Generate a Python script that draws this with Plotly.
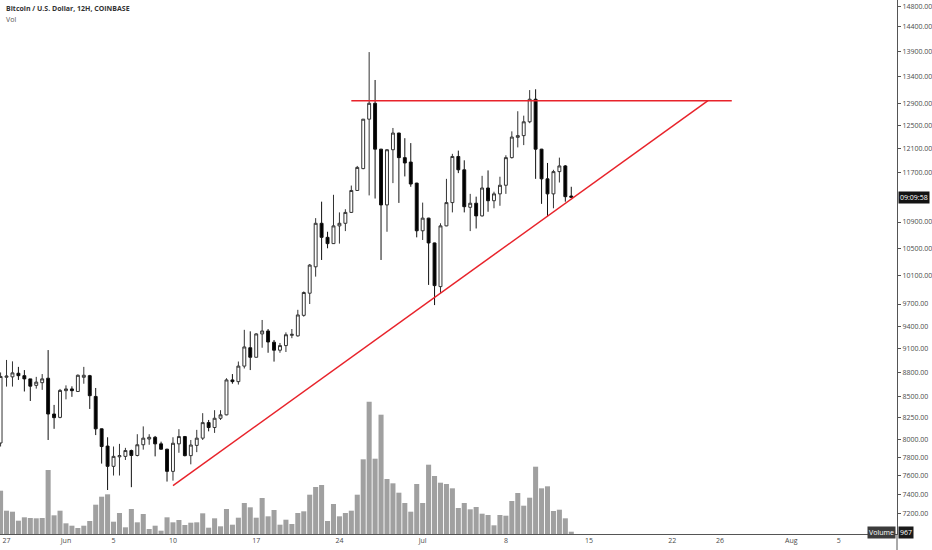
import math
import pandas as pd
import plotly.graph_objects as go

# 12H candles, Coinbase BTC/USD, 26 May 2019 12:00 -> 13 Jul 2019 12:00
opens = [7960, 8740, 8745, 8790, 8760, 8720, 8640, 8673, 8728, 8295,
         8255, 8575, 8596, 8565, 8740, 8760, 8505, 8122, 7925, 7700,
         7805, 7810, 7875, 7820, 7940, 8005, 8025, 7950, 7890, 7645,
         7950, 8033, 7818, 7933, 8015, 8194, 8137, 8245, 8285, 8707,
         8686, 8880, 9115, 8992, 9296, 9335, 9187, 9083, 9143, 9277,
         9270, 9545, 9850, 10227, 10880, 10665, 10570, 10840, 10880, 11050,
         11400, 11760, 12617, 12905, 12090, 11168, 12080, 12370, 11945, 11870,
         11520, 10765, 10960, 10580, 9943, 10840, 11205, 11965, 11740, 11130,
         11195, 10995, 11440, 11235, 11345, 11485, 11945, 12295, 12325, 12570,
         12980, 12090, 11590, 11345, 11710, 11805, 11310]
highs = [8800, 8958, 8940, 8870, 8830, 8720, 8745, 8780, 9085, 8403,
         8596, 8640, 8628, 8775, 8870, 8770, 8608, 8125, 8025, 7920,
         7950, 7905, 7885, 8060, 8150, 8060, 8040, 7975, 7895, 8025,
         8118, 8040, 7994, 8110, 8305, 8225, 8340, 8340, 8728, 8780,
         8938, 9350, 9330, 9305, 9482, 9361, 9216, 9177, 9316, 9361,
         9620, 9875, 10267, 10960, 11220, 10750, 11330, 11050, 11100, 11480,
         11805, 12620, 13880, 13340, 12095, 12090, 12460, 12375, 12280, 12195,
         11525, 11205, 10965, 10585, 10880, 11590, 12010, 12065, 11900, 11345,
         11300, 11640, 11730, 11380, 11625, 11985, 12400, 12760, 12680, 13150,
         13165, 12095, 11855, 11740, 11945, 11820, 11460]
lows = [7920, 8625, 8625, 8707, 8565, 8450, 8600, 8585, 7994, 8122,
        8245, 8470, 8500, 8560, 8660, 8355, 8050, 7730, 7445, 7600,
        7600, 7770, 7475, 7810, 7885, 7940, 7810, 7885, 7535, 7545,
        7850, 7810, 7722, 7857, 7994, 8093, 8075, 8225, 8280, 8660,
        8650, 8850, 8830, 8990, 9115, 9050, 8937, 9050, 9060, 9240,
        9260, 9527, 9700, 10085, 10327, 10500, 10565, 10570, 10760, 11040,
        11395, 11750, 11320, 11270, 10327, 10750, 11520, 11200, 11630, 11460,
        10665, 10625, 9967, 9685, 9850, 10835, 11050, 11685, 11050, 10760,
        10800, 10985, 11060, 11115, 11155, 11345, 11930, 12120, 12160, 12545,
        11590, 11185, 10985, 11115, 11530, 11220, 11290]
closes = [8750, 8755, 8795, 8760, 8720, 8630, 8680, 8720, 8295, 8252,
          8578, 8596, 8575, 8765, 8765, 8514, 8122, 7920, 7700, 7810,
          7818, 7875, 7820, 7940, 8015, 8025, 7950, 7890, 7645, 7957,
          8033, 7818, 7937, 8015, 8194, 8137, 8245, 8285, 8707, 8686,
          8880, 9125, 8992, 9296, 9335, 9190, 9083, 9143, 9285, 9290,
          9550, 9860, 10252, 10880, 10665, 10570, 10840, 10880, 11050, 11400,
          11780, 12617, 12905, 12090, 11168, 12080, 12370, 11945, 11855, 11505,
          10765, 10960, 10580, 9957, 10840, 11205, 11965, 11740, 11140, 11195,
          10995, 11440, 11235, 11345, 11485, 11945, 12300, 12325, 12570, 12980,
          12090, 11590, 11345, 11710, 11805, 11300, 11290]
volumes = [18190, 9790, 9370, 5590, 7010, 6720, 6590, 6720, 26880, 7850,
           9790, 4490, 3490, 2520, 3490, 5460, 12310, 15670, 16670, 5170,
           8820, 2810, 10500, 4910, 8400, 2100, 3490, 1390, 7010, 4910,
           5880, 3780, 4750, 4910, 8690, 2650, 6590, 3230, 10500, 3910,
           6850, 13020, 11210, 6850, 15120, 7430, 10080, 3910, 6010, 4200,
           8820, 9530, 16510, 19740, 20580, 5460, 12600, 7430, 8820, 9790,
           16510, 31370, 55570, 31630, 50110, 23100, 21290, 17350, 13020, 9370,
           21000, 13020, 29110, 24360, 21550, 21000, 19190, 10920, 13020, 10370,
           11340, 8530, 7980, 3650, 7980, 7690, 13860, 17220, 11890, 15250,
           28270, 19190, 20030, 9660, 10210, 6590, 967]
times = pd.date_range("2019-05-26 12:00", periods=len(opens), freq="12h")

# drawn lines (ascending triangle)
resist_x = ["2019-06-25 00:00", "2019-07-27 00:00"]
resist_y = [12953, 12953]
support_x = ["2019-06-10 00:00", "2019-07-25 00:00"]
support_y = [7492, 12953]

price_ticks = [7200, 7400, 7600, 7800, 8000, 8250, 8500, 8800, 9100, 9400,
               9700, 10100, 10500, 10900, 11700, 12100, 12500, 12900, 13400,
               13900, 14400, 14800]
date_ticks = ["2019-05-27", "2019-06-01", "2019-06-05", "2019-06-10", "2019-06-17",
              "2019-06-24", "2019-07-01", "2019-07-08", "2019-07-15", "2019-07-22",
              "2019-07-26", "2019-08-01", "2019-08-05"]
date_labels = ["27", "Jun", "5", "10", "17", "24", "Jul", "8", "15", "22", "26", "Aug", "5"]

fig = go.Figure()
fig.add_trace(go.Bar(x=times, y=volumes, yaxis="y2", marker_color="#a0a0a0",
                     marker_line_width=0, hoverinfo="skip"))
fig.add_trace(go.Candlestick(x=times, open=opens, high=highs, low=lows, close=closes,
                             increasing=dict(fillcolor="#ffffff", line=dict(color="#333333", width=1)),
                             decreasing=dict(fillcolor="#000000", line=dict(color="#111111", width=1)),
                             whiskerwidth=0))
fig.add_trace(go.Scatter(x=resist_x, y=resist_y, mode="lines",
                         line=dict(color="#e8232b", width=1.5), hoverinfo="skip"))
fig.add_trace(go.Scatter(x=support_x, y=support_y, mode="lines",
                         line=dict(color="#e8232b", width=1.5), hoverinfo="skip"))

fig.update_layout(
    width=932, height=550,
    margin=dict(l=0, r=35, t=0, b=16),
    paper_bgcolor="white", plot_bgcolor="white",
    showlegend=False,
    bargap=0.15,
    font=dict(family="Open Sans", size=7, color="#4a4a4a"),
    xaxis=dict(type="date", range=["2019-05-26 10:50", "2019-08-09 21:30"],
               rangeslider=dict(visible=False), showgrid=False, zeroline=False,
               tickvals=date_ticks, ticktext=date_labels, ticks="",
               showline=True, linecolor="#555555", linewidth=1,
               tickfont=dict(size=7, color="#4a4a4a")),
    yaxis=dict(type="log", side="right", range=[3.84469, 4.17457],
               showgrid=False, zeroline=False,
               tickvals=price_ticks, ticktext=[f"{v:.2f}" for v in price_ticks],
               ticks="outside", ticklen=3, tickcolor="#555555",
               showline=True, linecolor="#555555", linewidth=1,
               tickfont=dict(size=7, color="#4a4a4a")),
    yaxis2=dict(overlaying="y", range=[0, 224280], visible=False, fixedrange=True),
)

# axis line continues into the time scale strip
fig.add_shape(type="line", xref="paper", yref="paper", x0=1, x1=1, y0=-0.04, y1=0,
              line=dict(color="#555555", width=1))

fig.add_annotation(text="<b>Bitcoin / U.S. Dollar, 12H, COINBASE</b>", xref="paper", yref="paper",
                   x=0.004, y=0.984, xanchor="left", yanchor="middle", showarrow=False,
                   font=dict(size=7, color="#333333"))
fig.add_annotation(text="Vol", xref="paper", yref="paper", x=0.004, y=0.964,
                   xanchor="left", yanchor="middle", showarrow=False,
                   font=dict(size=7, color="#555555"))
fig.add_annotation(text="09:09:58", xref="paper", yref="y", x=1.001, y=math.log10(closes[-1]),
                   xanchor="left", yanchor="middle", showarrow=False,
                   bgcolor="#131313", borderpad=1,
                   font=dict(size=7, color="#ffffff"))
fig.add_annotation(text="Volume", xref="paper", yref="paper", x=0.999, y=0.002,
                   xanchor="right", yanchor="middle", showarrow=False,
                   bgcolor="#3c3c3c", borderpad=1,
                   font=dict(size=7, color="#ffffff"))
fig.add_annotation(text=f"{volumes[-1]}", xref="paper", yref="paper", x=1.001, y=0.002,
                   xanchor="left", yanchor="middle", showarrow=False,
                   bgcolor="#1a1a1a", borderpad=1,
                   font=dict(size=7, color="#ffffff"))

fig.write_html("out.html", config={"displayModeBar": False},
               post_script="document.body.style.margin='0';")
